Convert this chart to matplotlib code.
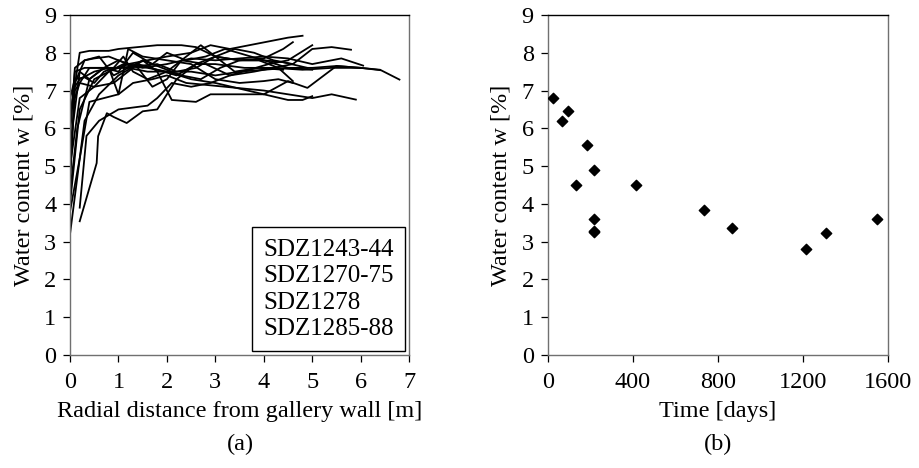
import matplotlib
matplotlib.use("Agg")
import matplotlib.pyplot as plt
from matplotlib.lines import Line2D

plt.rcParams['font.family'] = ['Liberation Serif', 'DejaVu Serif']
plt.rcParams['font.size'] = 17.5

# (a) water content profiles along the boreholes: radial distance [m], w [%]
profiles = [
    ([0, 0.2, 0.4, 0.8, 1.0, 1.4, 1.8, 2.3, 2.6, 3.0, 3.5, 4.0, 4.4, 4.6],
     [6.3, 8.0, 8.05, 8.05, 8.1, 8.15, 8.2, 8.2, 8.15, 7.9, 7.8, 7.85, 8.1, 8.28]),
    ([0, 0.1, 0.3, 0.5, 0.8, 1.2, 1.6, 2.0, 2.5, 2.9, 3.3, 3.7, 4.1, 4.5, 4.8],
     [4.5, 7.2, 7.8, 7.85, 7.9, 7.7, 7.8, 7.9, 8.0, 8.2, 8.1, 8.2, 8.3, 8.4, 8.45]),
    ([0, 0.2, 0.4, 0.7, 1.0, 1.3, 1.7, 2.0, 2.4, 2.8, 3.2, 3.6, 4.0, 4.5, 5.0],
     [5.5, 7.5, 7.3, 7.6, 7.5, 8.0, 7.7, 8.0, 7.8, 7.9, 8.1, 7.95, 7.8, 7.6, 7.55]),
    ([0, 0.1, 0.3, 0.6, 1.0, 1.4, 1.8, 2.2, 2.6, 3.0, 3.4, 3.8, 4.2, 4.6, 5.0, 5.4, 5.8],
     [6.0, 7.5, 7.6, 7.6, 7.6, 7.65, 7.7, 7.5, 7.6, 7.9, 8.1, 8.0, 7.8, 7.7, 8.1, 8.15, 8.08]),
    ([0, 0.2, 0.5, 0.8, 1.1, 1.5, 2.0, 2.5, 3.0, 3.5, 4.0, 4.5, 5.0, 5.6, 6.05],
     [4.0, 6.5, 7.3, 7.5, 7.7, 7.6, 7.7, 7.85, 7.8, 7.85, 7.9, 7.85, 7.7, 7.85, 7.66]),
    ([0, 0.1, 0.4, 0.8, 1.2, 1.6, 2.0, 2.5, 3.0, 3.5, 4.0, 4.5, 5.0, 5.5, 6.0, 6.4],
     [4.8, 7.0, 7.6, 7.6, 7.6, 7.5, 7.5, 7.5, 7.4, 7.5, 7.55, 7.6, 7.6, 7.65, 7.6, 7.54]),
    ([0, 0.3, 0.6, 1.0, 1.4, 1.8, 2.2, 2.6, 3.0, 3.6, 4.2, 4.8, 5.4, 6.0, 6.4, 6.8],
     [3.2, 6.2, 6.9, 7.4, 7.7, 7.55, 7.4, 7.7, 7.7, 7.6, 7.6, 7.55, 7.6, 7.6, 7.55, 7.29]),
    ([0, 0.2, 0.4, 0.7, 1.0, 1.3, 1.7, 2.0, 2.4, 2.8, 3.2, 3.6, 4.0, 4.5, 5.0, 5.4, 5.9],
     [3.8, 5.2, 6.7, 6.8, 6.9, 7.2, 7.3, 7.4, 7.2, 7.15, 7.1, 7.05, 7.0, 6.9, 6.8, 6.9, 6.76]),
    ([0.2, 0.34, 0.6, 1.0, 1.6, 1.8, 2.1, 2.5, 2.9, 3.3, 3.7, 4.1, 4.5, 5.0],
     [3.9, 5.8, 6.2, 6.5, 6.6, 6.8, 7.2, 7.1, 7.2, 7.4, 7.55, 7.7, 7.8, 8.2]),
    ([0.2, 0.55, 0.58, 0.76, 0.9, 1.17, 1.5, 1.8, 2.2, 2.6, 3.0, 3.5, 4.0, 4.4, 4.9],
     [3.54, 5.08, 5.79, 6.4, 6.3, 6.14, 6.45, 6.5, 7.3, 7.7, 7.9, 7.8, 7.8, 7.75, 7.6]),
    ([0, 0.2, 0.5, 0.9, 1.2, 1.5, 1.8, 2.1, 2.6, 2.9, 3.5, 4.0, 4.5, 4.9, 5.5, 6.0],
     [6.4, 7.2, 7.1, 7.2, 7.5, 7.8, 7.5, 6.75, 6.7, 6.9, 6.9, 6.9, 7.25, 7.07, 7.65, 7.6]),
    ([0, 0.2, 0.5, 0.8, 1.2, 1.6, 2.0, 2.5, 3.0, 3.5, 4.0, 4.5, 4.8, 5.0],
     [5.0, 6.8, 7.1, 7.5, 7.7, 7.6, 7.5, 7.3, 7.2, 7.05, 6.9, 6.75, 6.75, 6.85]),
    ([0, 0.1, 0.3, 0.6, 0.9, 1.2, 1.5, 1.9, 2.3, 2.7, 3.1, 3.5, 3.9, 4.3, 4.6],
     [5.8, 7.6, 7.8, 7.9, 7.4, 7.6, 7.8, 7.6, 7.4, 7.3, 7.6, 7.8, 7.8, 7.6, 7.25]),
    ([0, 0.1, 0.3, 0.5, 0.7, 0.9, 1.1, 1.3, 1.6, 2.0, 2.4, 2.7, 3.0, 3.4, 3.9, 4.4],
     [6.8, 7.3, 7.35, 7.2, 7.5, 7.6, 7.9, 7.5, 7.3, 7.5, 7.9, 8.2, 7.9, 7.5, 7.6, 7.55]),
    ([0, 0.2, 0.5, 0.8, 1.0, 1.2, 1.5, 2.0, 2.5, 3.0, 3.5, 4.0, 4.3, 4.6],
     [6.9, 7.3, 7.5, 7.6, 6.9, 8.1, 7.9, 7.8, 7.7, 7.3, 7.2, 7.25, 7.3, 7.2]),
    ([0, 0.15, 0.4, 0.7, 1.0, 1.4, 1.7, 2.0, 2.3, 2.8, 3.3, 3.8, 4.2, 4.6],
     [4.3, 6.0, 7.3, 7.6, 7.8, 7.6, 7.1, 7.3, 7.8, 7.7, 7.4, 7.5, 7.6, 7.7]),
]
legend_labels = ["SDZ1243-44", "SDZ1270-75", "SDZ1278", "SDZ1285-88"]

# (b) water content near the wall versus time
time_days = [27, 69, 94, 132, 187, 218, 218, 218, 218, 417, 736, 867, 1217, 1310, 1551]
w_time = [6.80, 6.20, 6.45, 4.50, 5.55, 4.90, 3.61, 3.29, 3.26, 4.50, 3.83, 3.37, 2.81, 3.22, 3.61]

fig = plt.figure(figsize=(9.19, 4.68), dpi=100)
ax1 = fig.add_axes([0.0762, 0.2415, 0.369, 0.7265])
ax2 = fig.add_axes([0.596, 0.2415, 0.370, 0.7265])


def style(ax):
    ax.tick_params(direction='out', length=5, width=0.9, color='black', labelsize=17.5)
    ax.tick_params(axis='x', pad=7)
    ax.tick_params(axis='y', pad=5)
    for side in ['left', 'right', 'bottom']:
        ax.spines[side].set_color('#707070')
    ax.spines['top'].set_color('black')
    for sp in ax.spines.values():
        sp.set_linewidth(1.0)


for xs, ws in profiles:
    ax1.plot(xs, ws, color='black', lw=1.3)
ax1.set_xlim(0, 7)
ax1.set_ylim(0, 9)
ax1.set_xticks(range(0, 8))
ax1.set_yticks(range(0, 10))
ax1.set_xlabel("Radial distance from gallery wall [m]", labelpad=6)
ax1.set_ylabel("Water content w [%]", labelpad=7)
style(ax1)
handles = [Line2D([], [], linestyle='none') for _ in legend_labels]
leg = ax1.legend(handles, legend_labels, loc='lower right', handlelength=0,
                 handletextpad=0, fancybox=False, edgecolor='black', framealpha=1,
                 borderaxespad=0.15, fontsize=18, labelspacing=0.15, borderpad=0.45)
leg.get_frame().set_linewidth(1.0)

ax2.scatter(time_days, w_time, marker='D', s=28, color='black', zorder=3)
ax2.set_xlim(0, 1600)
ax2.set_ylim(0, 9)
ax2.set_xticks([0, 400, 800, 1200, 1600])
ax2.set_yticks(range(0, 10))
ax2.set_xlabel("Time [days]", labelpad=6)
ax2.set_ylabel("Water content w [%]", labelpad=7)
style(ax2)

fig.text(0.262, 0.05, "(a)", ha='center', va='center', fontsize=17.5)
fig.text(0.781, 0.05, "(b)", ha='center', va='center', fontsize=17.5)

fig.savefig("out.png", dpi=100)
